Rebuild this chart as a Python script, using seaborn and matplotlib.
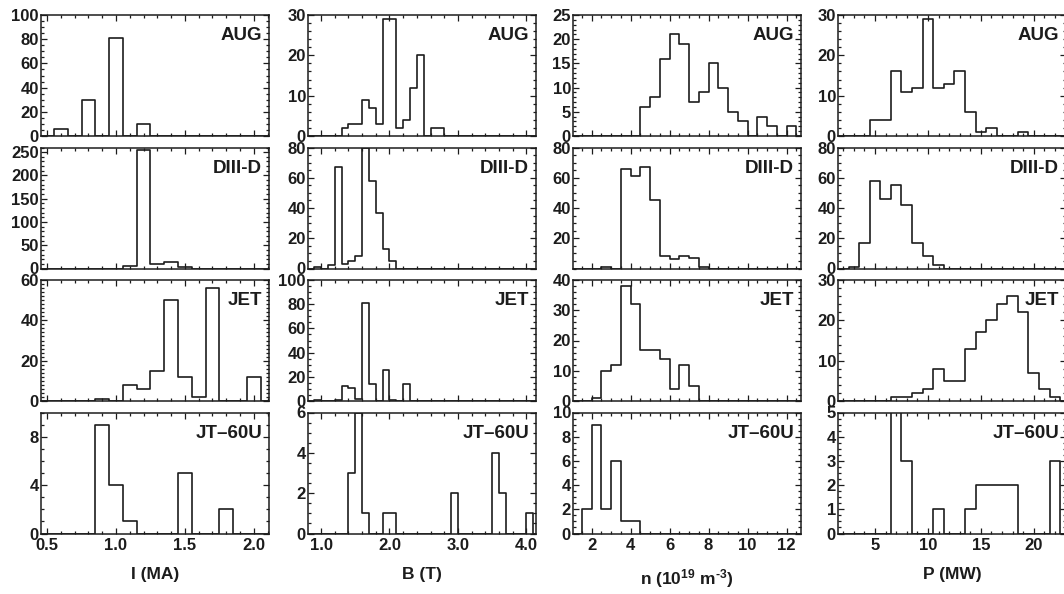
import numpy as np
import pandas as pd
import matplotlib
matplotlib.use("Agg")
import matplotlib.pyplot as plt
import seaborn as sns
from matplotlib.ticker import MultipleLocator, FixedLocator, FormatStrFormatter

sns.set_theme(style="ticks")
plt.rcParams['font.family'] = ['Liberation Sans', 'DejaVu Sans']
plt.rcParams['font.weight'] = 'bold'
plt.rcParams['mathtext.fontset'] = 'custom'
plt.rcParams['mathtext.rm'] = 'Liberation Sans:bold'
plt.rcParams['mathtext.bf'] = 'Liberation Sans:bold'
plt.rcParams['mathtext.default'] = 'bf'

devices = ["AUG", "DIII-D", "JET", "JT–60U"]

# ---- Column 1: plasma current I (MA), bin width 0.1
I_centers = [0.5, 0.6, 0.7, 0.8, 0.9, 1.0, 1.1, 1.2, 1.3, 1.4, 1.5, 1.6, 1.7, 1.8, 1.9, 2.0, 2.1]
I_AUG   = [0, 6, 0, 30, 0, 81, 0, 10, 0, 0, 0, 0, 0, 0, 0, 0, 0]
I_DIIID = [0, 0, 0, 0, 0, 0, 6, 254, 10, 13, 3, 0, 0, 0, 0, 0, 0]
I_JET   = [0, 0, 0, 0, 1, 0, 8, 6, 15, 50, 12, 2, 56, 0, 0, 12, 0]
I_JT60U = [0, 0, 0, 0, 9, 4, 1, 0, 0, 0, 5, 0, 0, 2, 0, 0, 0]

# ---- Column 2: toroidal field B (T), bin width 0.1
B_centers = [0.85, 0.95, 1.05, 1.15, 1.25, 1.35, 1.45, 1.55, 1.65, 1.75, 1.85, 1.95,
             2.05, 2.15, 2.25, 2.35, 2.45, 2.55, 2.65, 2.75, 2.85, 2.95, 3.05, 3.15,
             3.25, 3.35, 3.45, 3.55, 3.65, 3.75, 3.85, 3.95, 4.05, 4.15]
B_AUG   = [0, 0, 0, 0, 0, 2, 3, 3, 9, 7, 3, 29, 29, 2, 4, 12, 20, 0, 2, 2, 0, 0, 0, 0,
           0, 0, 0, 0, 0, 0, 0, 0, 0, 0]
B_DIIID = [0, 1, 0, 2, 67, 3, 5, 8, 80, 58, 37, 13, 5, 0, 0, 0, 0, 0, 0, 0, 0, 0, 0, 0,
           0, 0, 0, 0, 0, 0, 0, 0, 0, 0]
B_JET   = [0, 1, 0, 0, 1, 12, 11, 2, 81, 14, 0, 26, 1, 0, 14, 0, 0, 0, 0, 0, 0, 0, 0, 0,
           0, 0, 0, 0, 0, 0, 0, 0, 0, 0]
B_JT60U = [0, 0, 0, 0, 0, 0, 3, 6, 1, 0, 0, 1, 1, 0, 0, 0, 0, 0, 0, 0, 0, 2, 0, 0,
           0, 0, 0, 4, 2, 0, 0, 0, 1, 0]

# ---- Column 3: density n (1e19 m^-3), bin width 0.5
n_centers = [1.25, 1.75, 2.25, 2.75, 3.25, 3.75, 4.25, 4.75, 5.25, 5.75, 6.25, 6.75,
             7.25, 7.75, 8.25, 8.75, 9.25, 9.75, 10.25, 10.75, 11.25, 11.75, 12.25, 12.75]
n_AUG   = [0, 0, 0, 0, 0, 0, 0, 6, 8, 16, 21, 19, 7, 9, 15, 10, 5, 3, 0, 4, 2, 0, 2, 0]
n_DIIID = [0, 0, 0, 1, 0, 66, 61, 67, 45, 8, 6, 8, 7, 1, 0, 0, 0, 0, 0, 0, 0, 0, 0, 0]
n_JET   = [0, 0, 1, 10, 12, 38, 32, 17, 17, 14, 4, 12, 5, 0, 0, 0, 0, 0, 0, 0, 0, 0, 0, 0]
n_JT60U = [0, 2, 9, 2, 6, 1, 1, 0, 0, 0, 0, 0, 0, 0, 0, 0, 0, 0, 0, 0, 0, 0, 0, 0]

# ---- Column 4: heating power P (MW), bin width 1
P_centers = [2, 3, 4, 5, 6, 7, 8, 9, 10, 11, 12, 13, 14, 15, 16, 17, 18, 19, 20, 21, 22, 23]
P_AUG   = [0, 0, 0, 4, 4, 16, 11, 12, 29, 12, 13, 16, 6, 1, 2, 0, 0, 1, 0, 0, 0, 0]
P_DIIID = [0, 1, 17, 58, 46, 55, 42, 17, 8, 2, 0, 0, 0, 0, 0, 0, 0, 0, 0, 0, 0, 0]
P_JET   = [0, 0, 0, 0, 0, 1, 1, 2, 3, 8, 5, 5, 13, 17, 20, 24, 26, 22, 7, 3, 1, 0]
P_JT60U = [0, 0, 0, 0, 0, 6, 3, 0, 0, 1, 0, 0, 1, 2, 2, 2, 2, 0, 0, 0, 3, 0]

columns = [
    dict(centers=I_centers, width=0.1, counts=[I_AUG, I_DIIID, I_JET, I_JT60U],
         xlim=(0.456, 2.11), xmajor=0.5, xminor=0.1, xfmt='%.1f', xlabel='I (MA)',
         ylims=[(0, 100), (0, 260), (0, 60), (0, 10)],
         yticks=[[0, 20, 40, 60, 80, 100], [0, 50, 100, 150, 200, 250], [0, 20, 40, 60], [0, 4, 8]],
         yminor=[5, 10, 2, 1]),
    dict(centers=B_centers, width=0.1, counts=[B_AUG, B_DIIID, B_JET, B_JT60U],
         xlim=(0.81, 4.14), xmajor=1.0, xminor=0.2, xfmt='%.1f', xlabel='B (T)',
         ylims=[(0, 30), (0, 80), (0, 100), (0, 6)],
         yticks=[[0, 10, 20, 30], [0, 20, 40, 60, 80], [0, 20, 40, 60, 80, 100], [0, 2, 4, 6]],
         yminor=[2, 5, 5, 0.5]),
    dict(centers=n_centers, width=0.5, counts=[n_AUG, n_DIIID, n_JET, n_JT60U],
         xlim=(1.05, 12.74), xmajor=2, xminor=0.5, xfmt='%d',
         xlabel=r'n (10$^{19}$ m$^{\text{-}3}$)',
         ylims=[(0, 25), (0, 80), (0, 40), (0, 10)],
         yticks=[[0, 5, 10, 15, 20, 25], [20, 40, 60, 80], [0, 10, 20, 30, 40], [0, 2, 4, 6, 8, 10]],
         yminor=[1, 5, 2, 0.5]),
    dict(centers=P_centers, width=1.0, counts=[P_AUG, P_DIIID, P_JET, P_JT60U],
         xlim=(1.5, 23.05), xmajor=5, xminor=1, xfmt='%d', xlabel='P (MW)',
         ylims=[(0, 30), (0, 80), (0, 30), (0, 5)],
         yticks=[[0, 10, 20, 30], [0, 20, 40, 60, 80], [0, 10, 20, 30], [0, 1, 2, 3, 4, 5]],
         yminor=[2, 5, 2, 0.25]),
]

W, H = 1064, 594
fig = plt.figure(figsize=(W / 100, H / 100), dpi=100)
lefts = [41, 308, 573, 838]
tops = [15, 147.5, 280, 412.5]
aw, ah = 228, 121
INK = '#1c1c1c'

for c, col in enumerate(columns):
    centers = np.asarray(col['centers'], dtype=float)
    bw = col['width']
    edges = [float(e) for e in np.append(centers - bw / 2, centers[-1] + bw / 2)]
    for r, dev in enumerate(devices):
        ax = fig.add_axes([lefts[c] / W, 1 - (tops[r] + ah) / H, aw / W, ah / H])
        df = pd.DataFrame({'value': centers, 'count': np.asarray(col['counts'][r], dtype=float)})
        sns.histplot(data=df, x='value', weights='count', bins=edges, element='step',
                     fill=False, color=INK, linewidth=1.2, ax=ax)
        ax.set_xlim(*col['xlim'])
        ax.set_ylim(*col['ylims'][r])
        ax.xaxis.set_major_locator(MultipleLocator(col['xmajor']))
        ax.xaxis.set_minor_locator(MultipleLocator(col['xminor']))
        ax.xaxis.set_major_formatter(FormatStrFormatter(col['xfmt']))
        ax.yaxis.set_major_locator(FixedLocator(col['yticks'][r]))
        ax.yaxis.set_minor_locator(MultipleLocator(col['yminor'][r]))
        ax.tick_params(which='both', direction='in', top=True, right=True, colors=INK,
                       labelsize=12, width=0.9)
        ax.tick_params(axis='y', which='major', length=4.5, pad=1.5)
        ax.tick_params(axis='x', which='major', length=4.5, pad=3.5)
        ax.tick_params(which='minor', length=2.2)
        for sp in ax.spines.values():
            sp.set_linewidth(1.1)
            sp.set_color(INK)
        for lab in ax.get_yticklabels() + ax.get_xticklabels():
            lab.set_fontweight('bold')
        ax.set_ylabel('')
        if r == 3:
            ax.set_xlabel(col['xlabel'], fontsize=12.5, fontweight='bold', color=INK, labelpad=10)
        else:
            ax.set_xlabel('')
            ax.tick_params(labelbottom=False)
        ax.text(0.97, 0.9, dev, transform=ax.transAxes, ha='right', va='top',
                fontsize=13.5, fontweight='bold', color=INK)

fig.savefig('out.png', dpi=100)
